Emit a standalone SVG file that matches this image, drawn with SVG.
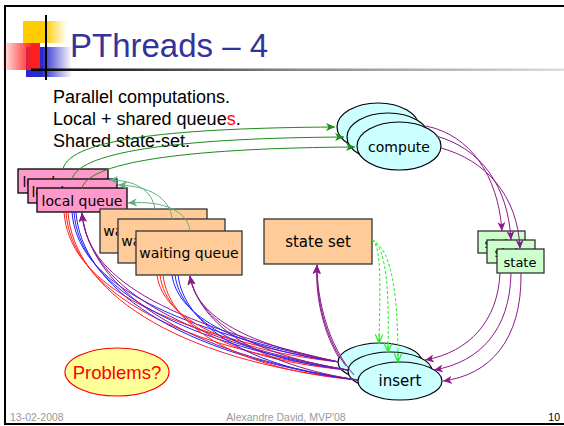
<svg xmlns="http://www.w3.org/2000/svg" width="564" height="426" viewBox="0 0 564 426">
<style>
.nt{font-family:"DejaVu Sans",sans-serif;fill:#000;text-anchor:middle}
.pink{fill:#ff99cc;stroke:#000;stroke-width:1.3}
.orange{fill:#ffcc99;stroke:#333;stroke-width:1.3}
.green{fill:#ccffcc;stroke:#222;stroke-width:1.2}
.cyan{fill:#ccffff;stroke:#000;stroke-width:1.2}
.c{fill:none;stroke-width:1}
.dg{stroke:#1a8c1a}
.lg{stroke:#5fb080}
.pu{stroke:#8a1a8a}
.rd{stroke:#ff2020}
.bl{stroke:#2020ff}
.ds{stroke:#22ee22;stroke-dasharray:3,2}
</style>
<defs>
<linearGradient id="gy" x1="0" x2="1" y1="0" y2="0"><stop offset="0.5" stop-color="#ffcc00"/><stop offset="1" stop-color="#ffcc00" stop-opacity="0"/></linearGradient>
<linearGradient id="gr" x1="1" x2="0" y1="0" y2="0"><stop offset="0.2" stop-color="#ff2020"/><stop offset="1" stop-color="#ff2020" stop-opacity="0.1"/></linearGradient>
<linearGradient id="gb" x1="0" x2="1" y1="0" y2="0"><stop offset="0.35" stop-color="#2a2acc"/><stop offset="1" stop-color="#2a2acc" stop-opacity="0"/></linearGradient>
<linearGradient id="gl" x1="0" x2="1" y1="0" y2="0"><stop offset="0" stop-color="#000"/><stop offset="0.5" stop-color="#888"/><stop offset="1" stop-color="#ddd"/></linearGradient>
<marker id="adg" markerUnits="userSpaceOnUse" markerWidth="10" markerHeight="8" refX="9" refY="4" orient="auto"><path d="M0,0 L9,4 L0,8 L2.5,4 Z" fill="#1a8c1a"/></marker>
<marker id="alg" markerUnits="userSpaceOnUse" markerWidth="10" markerHeight="8" refX="9" refY="4" orient="auto"><path d="M0,0 L9,4 L0,8 L2.5,4 Z" fill="#5fb080"/></marker>
<marker id="apu" markerUnits="userSpaceOnUse" markerWidth="10" markerHeight="8" refX="9" refY="4" orient="auto"><path d="M0,0 L9,4 L0,8 L2.5,4 Z" fill="#8a1a8a"/></marker>
<marker id="ads" markerUnits="userSpaceOnUse" markerWidth="10" markerHeight="8" refX="9" refY="4" orient="auto"><path d="M0,0 L9,4 L0,8 M9,4 L0,4" fill="none" stroke="#22ee22" stroke-width="1.2"/></marker>
</defs>
<rect x="0" y="0" width="564" height="426" fill="#fff"/>
<rect x="5" y="6" width="562" height="418" fill="none" stroke="#000" stroke-width="2"/>
<g id="logo">
<rect x="23" y="21" width="44" height="22" fill="url(#gy)"/>
<rect x="26" y="47" width="46" height="30" fill="url(#gb)"/>
<rect x="3" y="43" width="37" height="27" fill="url(#gr)"/>
<rect x="45" y="15" width="2" height="65" fill="#000"/>
<rect x="31" y="68.5" width="533" height="2.5" fill="url(#gl)"/>
</g>
<text x="70" y="57" font-family="Liberation Sans, Arial, sans-serif" font-size="34" fill="#333399" textLength="198" lengthAdjust="spacingAndGlyphs">PThreads – 4</text>
<g font-family="Liberation Sans, Arial, sans-serif" font-size="18" fill="#000">
<text x="53" y="103">Parallel computations.</text>
<text x="53" y="125">Local + shared queue<tspan fill="#ff0000">s</tspan>.</text>
<text x="53" y="147">Shared state-set.</text>
</g>
<g id="local-queue-1"><rect class="pink" x="18" y="169" width="90" height="24"/><text class="nt" x="63" y="187" font-size="14">local queue</text></g>
<g id="local-queue-2"><rect class="pink" x="28" y="179" width="89" height="24"/><text class="nt" x="72" y="197" font-size="14">local queue</text></g>
<g id="local-queue-3"><rect class="pink" x="37" y="188" width="90" height="24"/><text class="nt" x="82" y="206" font-size="14">local queue</text></g>
<g id="waiting-queue-1"><rect class="orange" x="100" y="209" width="107" height="44"/><text class="nt" x="153" y="236" font-size="14">waiting queue</text></g>
<g id="waiting-queue-2"><rect class="orange" x="118" y="219" width="107" height="44"/><text class="nt" x="171" y="246" font-size="14">waiting queue</text></g>
<g id="waiting-queue-3"><rect class="orange" x="136" y="231" width="106" height="44"/><text class="nt" x="189" y="258" font-size="14">waiting queue</text></g>
<g id="state-set"><rect class="orange" x="264" y="219" width="108" height="45"/><text class="nt" x="318" y="247" font-size="15">state set</text></g>
<g id="compute-1"><ellipse class="cyan" cx="378" cy="127" rx="41" ry="24"/></g>
<g id="compute-2"><ellipse class="cyan" cx="388" cy="137" rx="41" ry="24"/></g>
<g id="compute-3"><ellipse class="cyan" cx="399" cy="146" rx="42" ry="24"/><text class="nt" x="399" y="152" font-size="14">compute</text></g>
<g id="state-1"><rect class="green" x="478" y="231" width="47" height="22"/><text class="nt" x="501" y="248" font-size="13">state</text></g>
<g id="state-2"><rect class="green" x="487" y="240" width="48" height="23"/><text class="nt" x="511" y="257" font-size="13">state</text></g>
<g id="state-3"><rect class="green" x="497" y="249" width="47" height="24"/><text class="nt" x="520" y="267" font-size="13">state</text></g>
<g id="insert-1"><ellipse class="cyan" cx="380" cy="362" rx="42" ry="19"/></g>
<g id="insert-2"><ellipse class="cyan" cx="390" cy="371" rx="42" ry="19"/></g>
<g id="insert-3"><ellipse class="cyan" cx="400" cy="381" rx="42" ry="19"/><text class="nt" x="400" y="386" font-size="15">insert</text></g>
<g id="problems"><ellipse cx="117" cy="372" rx="52" ry="24" fill="#ffff99" stroke="#ff0000" stroke-width="1.2"/><text x="117" y="379" font-family="Liberation Sans, Arial, sans-serif" font-size="18.5" fill="#ff0000" text-anchor="middle">Problems?</text></g>
<g id="connectors">
<path class="c dg" d="M63,169 C70,138 180,128 335,127" marker-end="url(#adg)"/>
<path class="c dg" d="M72,179 C80,150 190,138 344,137" marker-end="url(#adg)"/>
<path class="c dg" d="M82,188 C90,160 200,148 355,147" marker-end="url(#adg)"/>
<path class="c lg" d="M155,209 C152,190 135,180 109,180" marker-end="url(#alg)"/>
<path class="c lg" d="M172,219 C170,198 150,186 118,185" marker-end="url(#alg)"/>
<path class="c lg" d="M190,231 C188,212 165,200 128,203" marker-end="url(#alg)"/>
<path class="c pu" d="M426,126 C470,135 498,175 502,231" marker-end="url(#apu)"/>
<path class="c pu" d="M436,136 C480,148 508,185 511,240" marker-end="url(#apu)"/>
<path class="c pu" d="M441,148 C485,160 518,195 520,249" marker-end="url(#apu)"/>
<path class="c pu" d="M500,273 C498,320 470,352 425,360" marker-end="url(#apu)"/>
<path class="c pu" d="M511,273 C510,330 480,362 434,370" marker-end="url(#apu)"/>
<path class="c pu" d="M521,273 C522,340 490,375 443,381" marker-end="url(#apu)"/>
<path class="c ds" d="M372,240 C382,245 380,290 379,343" marker-end="url(#ads)"/>
<path class="c ds" d="M372,240 C388,248 389,300 388,352" marker-end="url(#ads)"/>
<path class="c ds" d="M372,240 C395,250 398,310 398,362" marker-end="url(#ads)"/>
<path class="c pu" d="M339,358 C325,335 315,300 317,265" marker-end="url(#apu)"/>
<path class="c pu" d="M346,366 C326,340 316,300 317,265" marker-end="url(#apu)"/>
<path class="c pu" d="M354,375 C328,345 317,300 317,265" marker-end="url(#apu)"/>
<path class="c rd" d="M64,212 C69,280 150,330 339,362"/>
<path class="c rd" d="M66,212 C71,284 160,345 348,370"/>
<path class="c rd" d="M68,212 C73,288 170,360 358,380"/>
<path class="c bl" d="M72,212 C77,278 155,325 339,362"/>
<path class="c bl" d="M74,212 C79,282 165,340 348,370"/>
<path class="c bl" d="M76,212 C81,286 175,355 358,380"/>
<path class="c pu" d="M339,362 C160,322 86,276 82,213" marker-end="url(#apu)"/>
<path class="c pu" d="M348,370 C170,338 88,282 82,213" marker-end="url(#apu)"/>
<path class="c pu" d="M358,380 C180,354 90,288 82,213" marker-end="url(#apu)"/>
<path class="c rd" d="M157,275 C163,320 230,350 339,362"/>
<path class="c rd" d="M160,275 C166,324 235,360 348,370"/>
<path class="c rd" d="M163,275 C169,328 240,370 358,380"/>
<path class="c bl" d="M172,275 C178,318 240,348 339,362"/>
<path class="c bl" d="M175,275 C181,322 245,358 348,370"/>
<path class="c bl" d="M178,275 C184,326 250,368 358,380"/>
<path class="c pu" d="M339,362 C250,345 196,318 190,276" marker-end="url(#apu)"/>
<path class="c pu" d="M348,370 C255,355 198,322 190,276" marker-end="url(#apu)"/>
<path class="c pu" d="M358,380 C260,365 200,326 190,276" marker-end="url(#apu)"/>
</g>
<g font-family="Liberation Sans, Arial, sans-serif" font-size="10.5">
<text x="10" y="421" fill="#999">13-02-2008</text>
<text x="286" y="421" fill="#999" text-anchor="middle">Alexandre David, MVP'08</text>
<text x="560" y="421" fill="#000" text-anchor="end">10</text>
</g>
</svg>
